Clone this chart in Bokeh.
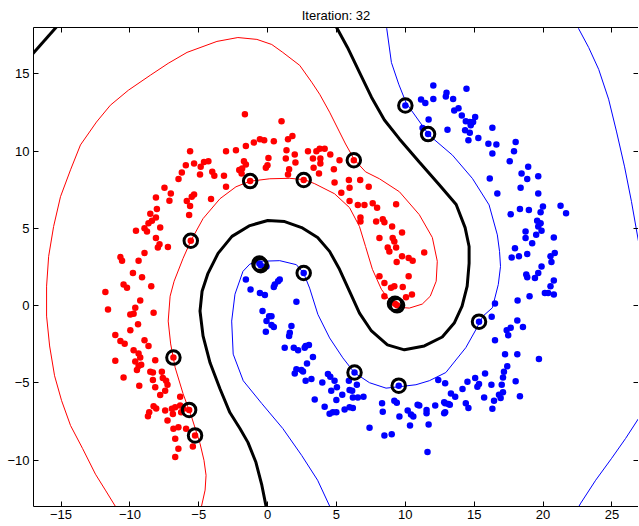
from bokeh.plotting import figure
from bokeh.models import Range1d, LinearAxis, FixedTicker
from bokeh.embed import file_html
from bokeh.resources import INLINE

title_text = "Iteration: 32"
x_ticks = [-15, -10, -5, 0, 5, 10, 15, 20, 25]
y_ticks = [-10, -5, 0, 5, 10, 15]

red_x = [-5.63, -5.34, -5.94, -6.23, -6.47, -4.86, -4.62, -4.30, -4.91, -4.02, -3.87, -3.17, -3.02, -2.30, -1.58, -1.00, -0.56, -0.25, 0.45, -1.72,
         -1.58, -1.85, 0.06, -0.01, -0.13, -1.27, -3.02, -4.11, -5.34, -5.51, -5.87, -5.63, -5.70, -7.03, -7.13, -7.49, -8.11, -8.04, -8.52, -8.11,
         -8.40, -8.65, -8.94, -8.76, -9.56, -7.80, -8.11, -7.85, -7.97, -7.24, -8.94, -10.69, -10.57, -9.37, -9.78, -9.12, -5.58,
         -1.65, 1.01, 1.48, 1.80, 1.37, 1.97, 1.32, 2.02, 1.56, 1.48, 2.62, 2.93, 3.54, 3.78, 4.14, 3.29, 3.83, 3.83, 3.34, 3.73,
         4.55, 5.22, 4.81, 4.86, 5.90, 6.72, 6.26, 5.95, -2.06, -1.89,
         5.35, 7.34, 5.95, 6.55, 7.03, 7.63, 7.95, 9.33, 6.74, 6.74, 7.88, 8.36, 8.48, 9.04, 8.12, 9.08, 9.20, 9.76, 8.72, 8.84,
         9.33, 9.76, 10.24, 10.53, 9.37, 11.37, 8.12, 8.48, 8.96, 9.20, 9.81, 10.24, 8.48, 10.05, 10.48, 9.25, 9.40,
         -10.46, -10.21, -8.45, -11.78, -11.59, -9.25, -9.61, -9.97, -9.73, -8.28, -9.41, -9.97, -11.06, -10.69, -10.38, -8.94, -8.65, -9.73, -9.37, -9.25,
         -11.06, -9.61, -9.37, -9.18, -8.16, -9.49, -10.46, -8.52, -8.33, -7.68, -7.61, -7.37, -7.27, -8.33, -8.16, -9.32, -7.44, -7.80, -6.84, -6.35,
         -8.28, -8.09, -8.60, -8.69, -7.44, -6.95, -6.71, -6.35, -6.11, -6.28, -6.88, -7.27, -6.84, -6.48, -5.92, -5.70, -5.27, -6.71, -6.48, -6.71, -5.43]
red_y = [9.99, 9.20, 9.09, 8.62, 8.19, 8.98, 9.30, 9.35, 8.49, 8.66, 8.40, 8.40, 9.99, 10.06, 10.33, 10.55, 10.77, 10.70, 10.64, 9.35,
         9.13, 8.87, 9.56, 9.09, 8.92, 8.06, 7.69, 6.90, 7.20, 7.05, 6.77, 6.45, 5.87, 7.26, 6.79, 7.63, 6.99, 6.26, 5.94, 5.70,
         5.49, 5.33, 5.01, 4.80, 4.84, 5.05, 4.37, 3.98, 3.77, 3.79, 3.40, 3.14, 2.91, 2.91, 2.11, 1.84, 4.20,
         12.38, 11.94, 10.77, 10.98, 10.06, 9.78, 9.52, 9.26, 8.83, 8.49, 8.13, 9.99, 9.99, 10.16, 10.16, 9.52, 9.52, 9.20, 8.92, 8.55,
         9.78, 9.41, 8.83, 7.97, 8.13, 8.13, 9.41, 7.63, 8.77, 8.55,
         7.31, 7.69, 6.77, 6.52, 6.52, 6.62, 6.34, 6.56, 5.70, 5.44, 5.44, 5.59, 5.40, 5.12, 4.37, 4.37, 4.15, 4.73, 3.77, 3.51,
         3.77, 3.19, 3.08, 2.91, 2.82, 3.44, 1.90, 1.47, 1.15, 1.26, 1.21, 1.90, 0.61, 0.55, 0.72, 0.12, 0.02,
         1.37, 1.15, 1.26, 0.89, -0.25, 0.33, -0.14, -0.57, -0.53, -0.46, -1.21, -1.60, -1.90, -2.29, -2.46, -2.24, -2.61, -2.89, -3.10, -3.36,
         -3.57, -3.62, -3.90, -3.83, -3.53, -4.17, -4.65, -4.28, -4.33, -4.28, -4.69, -4.86, -5.12, -4.82, -5.29, -5.18, -5.51, -5.78, -3.36, -5.89,
         -6.52, -6.65, -6.90, -7.16, -6.79, -6.68, -6.58, -6.47, -6.68, -6.90, -7.01, -7.44, -7.97, -7.87, -7.97, -6.75, -8.40, -8.62, -9.26, -9.80, -9.11]

blue_x = [12.03, 14.44, 11.14, 11.45, 12.03, 12.94, 12.99, 13.47, 10.00, 13.55, 13.86, 14.10, 11.69, 14.39, 14.68, 15.07, 16.32, 13.06, 14.34, 14.75,
          11.65, 14.92, 11.25, 14.68, 14.58, 15.30, 16.03, 16.61, 16.32, 18.01, 17.89, 17.58, 18.92, 18.44, 18.85, 19.65, 16.13, 18.37, 16.68, 19.65,
          21.27, 21.67, 18.32, 18.97, 19.99, 19.82, 17.65, 19.57, 19.82, 19.65, 18.73, 19.89, 19.50, 18.73, 19.21, 20.78, 17.96, 17.72, 18.25, 18.85,
          20.85, 20.54, 20.61, 19.89, 19.65, 19.41, 18.78, 18.85, 20.78, 20.54, 20.13, 20.37, 20.78, 19.02, 18.15, 16.51, 16.27, 15.35, 18.13, 18.54,
          17.65, 17.36, 17.47, 16.51, 17.24, 18.13, 19.70, 17.40, 17.16, 17.09, 15.79, 15.07, 14.51, 14.15, 18.01, 15.35, 15.23, 16.25, 17.00, 17.09,
          16.80, 16.92, 18.32, 15.72, 16.44, 12.39, 12.89, 13.31, 13.62, 14.39, 14.58, 16.32, 12.89, 13.23, 12.82, 12.17, 11.54, 11.54, 11.01, 11.69,
          2.76, 3.00, 3.29, 2.86, 2.57, 2.76, 3.18, 3.97, 4.38, 4.55, 4.86, 5.03, 6.31, 5.90, 6.48, 6.14, 5.42, 4.99, 3.42, 6.55,
          6.96, 4.14, 4.74, 4.99, 5.59, 5.95, 6.19, 7.40, 8.31, 8.36, 8.48, 9.01, 9.20, 9.38, 9.52, 9.57, 10.17, 10.41, 10.58, 10.34,
          10.89, 11.61, 12.82, 13.13, 12.89,
          -0.60, -0.50, -0.08, 2.62, -1.58, -1.24, 0.52, 0.76, 0.88, -0.56, -0.20, 2.09, -0.37, 0.11, 0.28, -0.08, 0.28, 0.45, -0.13, 1.73,
          1.61, 1.56, 1.24, 1.90, 2.21, 2.69, 2.09, 1.97, 2.45, 4.62, 5.95, 6.19, 4.50, 0.45]
blue_y = [14.24, 14.03, 13.34, 13.12, 13.38, 13.53, 13.77, 13.38, 12.95, 12.63, 12.78, 12.31, 12.05, 11.94, 11.88, 12.20, 11.51, 11.38, 11.35, 11.67,
          11.10, 11.88, 11.49, 11.19, 10.70, 10.85, 10.48, 10.42, 9.84, 10.59, 9.99, 9.35, 8.98, 8.55, 8.19, 8.38, 8.23, 7.63, 7.26, 7.26,
          6.47, 5.98, 6.26, 6.19, 6.41, 6.04, 5.91, 5.49, 5.33, 5.12, 4.80, 4.84, 4.58, 4.37, 4.04, 4.41, 3.72, 3.12, 3.19, 3.34,
          3.40, 3.19, 2.82, 2.54, 2.11, 1.79, 2.01, 1.84, 1.62, 1.26, 0.82, 0.82, 0.72, 0.61, 0.33, 0.14, -0.72, -1.04, -0.96, -1.38,
          -1.43, -1.60, -1.92, -2.24, -3.14, -3.14, -3.46, -3.92, -4.28, -4.65, -4.39, -4.69, -4.93, -5.40, -4.90, -5.07, -5.25, -5.12, -5.12, -5.61,
          -5.76, -5.98, -5.87, -5.94, -6.15, -4.82, -5.03, -5.68, -5.89, -6.32, -6.62, -6.68, -6.32, -6.41, -6.97, -6.47, -6.75, -6.97, -6.47, -7.69,
          -2.61, -2.54, -3.32, -3.75, -4.26, -4.86, -4.75, -4.97, -4.43, -4.60, -4.86, -5.29, -4.33, -4.86, -5.12, -5.51, -5.76, -6.10, -6.07, -5.94,
          -5.89, -6.54, -6.90, -6.90, -6.73, -6.58, -6.62, -7.91, -6.32, -6.86, -8.40, -8.32, -6.15, -6.28, -5.18, -7.18, -6.79, -7.05, -7.18, -7.76,
          -6.41, -9.48, -6.26, -6.36, -6.90,
          2.72, 2.62, 2.54, 2.11, 1.69, 1.04, 1.37, 1.58, 1.69, 0.82, 0.68, 0.25, -0.35, -0.68, -0.68, -1.00, -1.26, -1.38, -1.69, -1.32,
          -1.75, -1.96, -2.72, -2.72, -2.89, -2.72, -4.11, -4.39, -4.17, -5.51, -5.46, -5.94, -7.00, 1.21]

sv_x = [10.00, 11.65, 6.26, -1.27, 2.62, -5.58, -0.60, -0.50, 2.62, 9.25, 9.40, 15.35, -6.84, 6.31, 9.52, -5.70, -5.27]
sv_y = [12.95, 11.10, 9.41, 8.06, 8.13, 4.20, 2.72, 2.62, 2.11, 0.12, 0.02, -1.04, -3.36, -4.33, -5.18, -6.75, -8.40]

# decision boundary (level 0)
bound_x = [0.01, -0.13, -0.42, -0.85, -1.43, -2.01, -2.74, -3.46, -4.18, -4.69, -4.91, -4.76, -4.33, -3.60, -2.59, -1.29, 0.01, 1.24, 2.47, 3.63,
           4.50, 5.22, 5.95, 6.67, 7.54, 8.70, 9.93, 11.38, 12.68, 13.55, 14.12, 14.49, 14.63, 14.63, 14.34, 13.69, 12.46, 11.01, 9.57, 8.48,
           7.54, 6.67, 5.80, 5.01, 4.64]
bound_y = [-13.56, -12.91, -11.62, -10.14, -8.85, -7.95, -6.92, -5.38, -3.70, -1.96, -0.35, 0.93, 2.09, 3.38, 4.48, 5.18, 5.51, 5.44, 5.05, 4.41,
           3.51, 2.35, 0.93, -0.48, -1.64, -2.54, -2.86, -2.61, -2.03, -1.13, -0.03, 1.26, 2.74, 3.83, 5.05, 6.54, 7.82, 9.30, 10.79, 12.01,
           13.49, 15.10, 16.71, 18.00, 18.64]
bound2_x = [-17.35, -15.18]
bound2_y = [16.00, 18.19]

# margin level for the red class
red_c_x = [-10.98, -11.78, -12.50, -13.44, -14.31, -14.96, -15.47, -15.83, -16.05, -16.05, -15.90, -15.54, -15.04, -14.31, -13.59, -12.43, -11.42, -10.11,
           -8.52, -7.22, -5.85, -3.68, -2.16, -0.78, 0.30, 1.10, 2.33, 3.20, 3.78, 4.50, 5.22, 5.66, 6.31, 7.11, 8.12, 9.57, 11.01, 11.96, 12.32,
           12.24, 11.81, 11.23, 10.29, 9.42, 8.84, 8.26, 7.61, 7.11, 6.67, 5.95, 4.86, 3.42, 2.69, 1.61, 0.16, -1.29, -2.30, -3.46, -4.69, -5.56,
           -6.14, -6.79, -7.08, -7.22, -7.04, -6.71, -6.14, -5.52, -4.91, -4.62, -4.47, -4.54, -4.83]
red_c_y = [-13.10, -11.94, -10.91, -9.24, -7.76, -6.15, -4.54, -2.61, -0.68, 1.26, 3.19, 5.12, 7.05, 8.79, 10.40, 11.88, 12.97, 13.94,
           14.91, 15.68, 16.39, 17.10, 17.35, 17.23, 16.90, 16.39, 15.55, 14.46, 13.68, 12.52, 11.24, 10.46, 9.43, 8.66, 8.21, 7.37, 5.89, 4.41, 2.87,
           1.58, 0.61, 0.10, -0.16, -0.10, 0.35, 1.06, 2.35, 3.83, 5.12, 6.34, 7.24, 7.89, 8.15, 8.24, 8.21, 8.05, 7.69, 6.92, 5.63, 4.22,
           3.06, 1.58, 0.61, -1.00, -2.48, -4.02, -5.70, -7.21, -8.92, -10.01, -10.98, -11.94, -13.10]

# margin level for the blue class
blue_c_x = [8.48, 8.65, 8.99, 9.52, 10.07, 11.74, 13.42, 14.87, 16.08, 16.68, 16.84, 16.91, 16.75, 16.32, 15.64, 15.07, 14.39, 12.94, 11.74, 10.77,
            9.52, 8.60, 7.40, 6.31, 5.46, 4.50, 3.65, 3.05, 2.62, 2.09, 0.88, -0.56, -1.29, -1.79, -2.37, -2.61, -2.50, -1.77, -0.42, 1.10,
            2.47, 3.63, 4.57]
blue_c_y = [18.64, 17.93, 15.73, 14.33, 13.10, 11.02, 9.74, 8.23, 6.52, 4.58, 3.51, 2.54, 1.37, -0.14, -0.68, -1.64, -2.72, -4.33, -4.86, -5.12,
            -5.25, -5.34, -4.99, -4.35, -3.38, -2.09, -0.57, 1.13, 2.09, 2.65, 2.91, 2.87, 2.69, 2.22, 0.74, -1.00, -3.14, -4.86, -6.34, -7.95,
            -9.69, -11.30, -13.10]
blue_c2_x = [22.23, 22.58, 23.31, 24.04, 24.76, 25.34, 25.92, 26.42, 26.93, 27.51]
blue_c2_y = [18.96, 17.93, 16.71, 15.29, 13.36, 11.24, 8.98, 6.73, 4.15, 1.58]
blue_c3_x = [22.23, 22.74, 23.82, 24.98, 25.99, 26.93, 28.00]
blue_c3_y = [-13.56, -12.78, -11.30, -9.88, -8.60, -7.31, -6.15]

FONT = "Liberation Sans"
FS = "13px"

p = figure(frame_width=605, frame_height=479,
           x_range=Range1d(-17, 26.93), y_range=Range1d(-13, 18),
           output_backend="svg", toolbar_location=None,
           min_border_left=33, min_border_right=0, min_border_top=26, min_border_bottom=20,
           background_fill_color="white", border_fill_color="white")
p.grid.visible = False
p.outline_line_color = None

p.title.text = title_text
p.title.align = "center"
p.title.text_font = FONT
p.title.text_font_size = FS
p.title.text_font_style = "normal"
p.title.text_color = "black"
p.title.standoff = 10

for ax in (p.xaxis[0], p.yaxis[0]):
    ax.major_tick_in = 5
    ax.major_tick_out = 0
    ax.minor_tick_line_color = None
    ax.axis_line_color = "black"
    ax.major_tick_line_color = "black"
    ax.major_label_text_font = FONT
    ax.major_label_text_font_size = FS
    ax.major_label_text_color = "black"
p.xaxis.ticker = FixedTicker(ticks=x_ticks)
p.yaxis.ticker = FixedTicker(ticks=y_ticks)
p.xaxis.major_label_overrides = {t: str(t).replace("-", "\u2212") for t in x_ticks}
p.yaxis.major_label_overrides = {t: str(t).replace("-", "\u2212") for t in y_ticks}
p.xaxis.major_label_standoff = 3
p.yaxis.major_label_standoff = 4

top = LinearAxis(ticker=FixedTicker(ticks=x_ticks), major_tick_in=5, major_tick_out=0,
                 minor_tick_line_color=None, major_label_text_font_size="0px",
                 major_label_text_color=None, major_label_standoff=0, axis_line_color="black")
right = LinearAxis(ticker=FixedTicker(ticks=y_ticks), major_tick_in=5, major_tick_out=0,
                   minor_tick_line_color=None, major_label_text_font_size="0px",
                   major_label_text_color=None, major_label_standoff=0, axis_line_color=None)
p.add_layout(top, "above")
p.add_layout(right, "right")

p.line(red_c_x, red_c_y, line_color="#ff0000", line_width=1)
p.line(blue_c_x, blue_c_y, line_color="#0000ff", line_width=1)
p.line(blue_c2_x, blue_c2_y, line_color="#0000ff", line_width=1)
p.line(blue_c3_x, blue_c3_y, line_color="#0000ff", line_width=1)
p.line(bound_x, bound_y, line_color="black", line_width=3)
p.line(bound2_x, bound2_y, line_color="black", line_width=3)

p.scatter(red_x, red_y, size=6.5, fill_color="#ff0000", line_color=None)
p.scatter(blue_x, blue_y, size=6.5, fill_color="#0000ff", line_color=None)
p.scatter(sv_x, sv_y, size=13.5, fill_color=None, line_color="black", line_width=3)

open("out.html", "w").write(file_html(p, INLINE))
